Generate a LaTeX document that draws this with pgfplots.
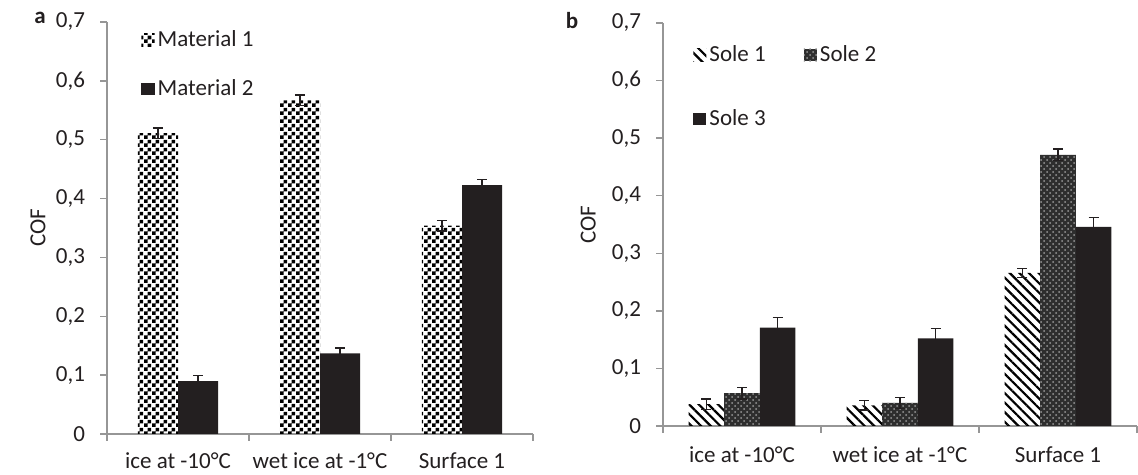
\documentclass[border=0pt]{standalone}
\usepackage{fontspec}
\setmainfont{Carlito}
\usepackage{pgfplots}
\usepackage{pgfplotstable}
\pgfplotsset{compat=1.18}
\usetikzlibrary{patterns,patterns.meta}
\definecolor{barblack}{RGB}{35,31,32}
\definecolor{axisgray}{RGB}{150,150,150}
\definecolor{txt}{RGB}{35,31,32}

\pgfdeclarepatternformonly{finecheck}{\pgfpointorigin}{\pgfqpoint{4pt}{4pt}}{\pgfqpoint{4pt}{4pt}}{%
  \pgfpathrectangle{\pgfpointorigin}{\pgfqpoint{2pt}{2pt}}%
  \pgfpathrectangle{\pgfqpoint{2pt}{2pt}}{\pgfqpoint{2pt}{2pt}}%
  \pgfusepath{fill}}

\pgfplotstableread{
x y e
0 0.511 0.009
1 0.567 0.009
2 0.354 0.009
}\matA
\pgfplotstableread{
x y e
0 0.090 0.009
1 0.137 0.009
2 0.423 0.009
}\matB
\pgfplotstableread{
x y e
0 0.038 0.009
1 0.036 0.008
2 0.266 0.008
}\soleA
\pgfplotstableread{
x y e
0 0.057 0.010
1 0.040 0.010
2 0.471 0.010
}\soleB
\pgfplotstableread{
x y e
0 0.171 0.017
1 0.152 0.017
2 0.346 0.016
}\soleC

\pgfplotsset{
  panel/.style={
    scale only axis,
    axis lines*=left,
    axis line style={axisgray, line width=0.7pt},
    every tick/.style={axisgray, line width=0.7pt},
    tick align=outside,
    major tick length=3.5pt,
    minor tick length=3.5pt,
    xmin=-0.5, xmax=2.5,
    ymin=0, ymax=0.7,
    ytick={0,0.1,0.2,0.3,0.4,0.5,0.6,0.7},
    yticklabels={0,{0,1},{0,2},{0,3},{0,4},{0,5},{0,6},{0,7}},
    xtick={0,1,2},
    xticklabels={ice at -10°C, wet ice at -1°C, Surface 1},
    major x tick style={draw=none},
    minor xtick={-0.5,0.5,1.5,2.5},
    ybar,
    clip=false,
    ylabel={COF},
    legend image code/.code={\fill[##1] (0pt,-3.1pt) rectangle (6.6pt,3.1pt);},
    legend style={draw=none, fill=none, inner sep=0pt, anchor=north west,
      nodes={inner sep=1pt, text=txt}, font=\fontsize{11.5}{13}\selectfont},
    legend cell align=left,
    ticklabel style={text=txt, font=\fontsize{11.5}{13}\selectfont},
    label style={text=txt, font=\fontsize{11.5}{13}\selectfont},
  },
  ebar/.style={error bars/.cd, y dir=both, y explicit,
    error bar style={line width=0.7pt, barblack},
    error mark options={rotate=90, line width=0.7pt, barblack, mark size=2.5pt}},
}

\begin{document}
\begin{tikzpicture}
\path[use as bounding box] (0,0) rectangle (569pt,237.5pt);
\begin{axis}[panel,
  at={(53.5pt,20.5pt)}, anchor=south west,
  width=213pt, height=206pt,
  bar width=0.282,
  yticklabel style={xshift=-4pt},
  xticklabel style={yshift=-2.5pt},
  y label style={at={(axis description cs:-0.162,0.5)}, rotate=0, anchor=center},
  legend style={at={(axis description cs:0.08,0.985)}, row sep=13pt,
    nodes={inner xsep=1.5pt}},
]
\addplot[draw=none, pattern=finecheck, bar shift=-0.141, ebar] table[x=x,y=y,y error=e] {\matA};
\addlegendentry{Material 1}
\addplot[draw=none, fill=barblack, bar shift=0.141, ebar] table[x=x,y=y,y error=e] {\matB};
\addlegendentry{Material 2}
\node[font=\bfseries\fontsize{11.5}{13}\selectfont, text=txt] at (axis description cs:-0.157,1.01) {a};
\end{axis}

\begin{axis}[panel,
  at={(331.5pt,24.5pt)}, anchor=south west,
  width=237pt, height=201.5pt,
  bar width=0.225,
  yticklabel style={xshift=-4pt},
  xticklabel style={yshift=-3.5pt},
  y label style={at={(axis description cs:-0.158,0.5)}, rotate=0, anchor=center},
  legend columns=2,
  legend style={at={(axis description cs:0.063,0.95)}, row sep=20.5pt,
    nodes={inner xsep=1.5pt},
    /tikz/every even column/.append style={column sep=17.5pt}},
]
\addplot[draw=none, pattern={Lines[angle=-45,distance=3.4pt,line width=1.1pt]}, bar shift=-0.225, ebar] table[x=x,y=y,y error=e] {\soleA};
\addlegendentry{Sole 1}
\addplot[draw=none, fill=black!82, postaction={pattern=crosshatch dots, pattern color=black!40}, bar shift=0, ebar] table[x=x,y=y,y error=e] {\soleB};
\addlegendentry{Sole 2}
\addplot[draw=none, fill=barblack, bar shift=0.225, ebar] table[x=x,y=y,y error=e] {\soleC};
\addlegendentry{Sole 3}
\node[font=\bfseries\fontsize{11.5}{13}\selectfont, text=txt] at (axis description cs:-0.192,1.007) {b};
\end{axis}
\end{tikzpicture}
\end{document}
